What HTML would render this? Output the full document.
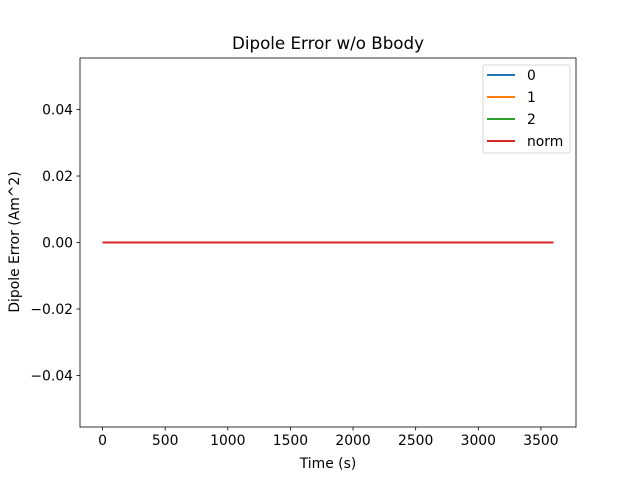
<!DOCTYPE html>
<html><head><meta charset="utf-8"><style>
body{margin:0;background:#fff;font-family:"Liberation Sans","DejaVu Sans",sans-serif}
text{font-family:"DejaVu Sans","Liberation Sans",sans-serif}
</style></head><body>
<svg width="640" height="480" viewBox="0 0 640 480">
<rect width="640" height="480" fill="#fff"/>
<text x="328" y="49" font-size="16.7" text-anchor="middle">Dipole Error w/o Bbody</text>
<g id="xt"></g><g id="yt"></g><g id="lines"></g>
<rect x="80" y="58" width="496" height="369" fill="none" stroke="#000" stroke-width="0.8"/>
<text x="328" y="468" font-size="13.9" text-anchor="middle">Time (s)</text>
<text transform="translate(19,242) rotate(-90)" font-size="13.9" text-anchor="middle">Dipole Error (Am^2)</text>
<g>
<rect x="483" y="65" width="87" height="88" rx="2" fill="#fff" fill-opacity="0.8" stroke="#ccc" stroke-width="0.8"/>
<g id="leg"></g>
</g>
</svg>
<script>
const xTicks=[0,500,1000,1500,2000,2500,3000,3500];
const yTicks=[-0.04,-0.02,0,0.02,0.04];
const yLabels=["\u22120.04","\u22120.02","0.00","0.02","0.04"];
const seriesNames=["0","1","2","norm"];
const seriesColors=["#1f77b4","#ff7f0e","#2ca02c","#d62728"];
const times=[0,3600];
const s0=[0,0],s1=[0,0],s2=[0,0],sNorm=[0,0];
const series=[s0,s1,s2,sNorm];
const xmin=-180,xmax=3780,ymin=-0.0555,ymax=0.0555;
const L=80,R=576,T=58,B=427;
const X=v=>L+(v-xmin)/(xmax-xmin)*(R-L);
const Y=v=>B-(v-ymin)/(ymax-ymin)*(B-T);
const NS="http://www.w3.org/2000/svg";
function mk(p,t,a){const e=document.createElementNS(NS,t);for(const k in a)e.setAttribute(k,a[k]);p.appendChild(e);return e;}
const xt=document.getElementById('xt'),yt=document.getElementById('yt'),ln=document.getElementById('lines'),lg=document.getElementById('leg');
xTicks.forEach(v=>{const x=X(v);
const t=mk(xt,'line',{x1:x,x2:x,y1:B,y2:B+3.5,stroke:'#000','stroke-width':0.8});


const l=mk(xt,'text',{x:x,y:B+18,'font-size':13.9,'text-anchor':'middle'});l.textContent=v;

});
yTicks.forEach((v,i)=>{const y=Y(v);
const t=mk(yt,'line',{x1:L-3.5,x2:L,y1:y,y2:y,stroke:'#000','stroke-width':0.8});


const l=mk(yt,'text',{x:L-7,y:y+5,'font-size':13.9,'text-anchor':'end'});l.textContent=yLabels[i];

});
series.forEach((s,i)=>{
const p=mk(ln,'polyline',{points:s.map((v,j)=>X(times[j])+','+Y(v)).join(' '),fill:'none',stroke:seriesColors[i],'stroke-width':2});


const y=75+i*22;
const e=mk(lg,'line',{x1:487,x2:515,y1:y,y2:y,stroke:seriesColors[i],'stroke-width':2});


const t=mk(lg,'text',{x:527,y:y+5,'font-size':13.9});t.textContent=seriesNames[i];

});
</script>
</body></html>
